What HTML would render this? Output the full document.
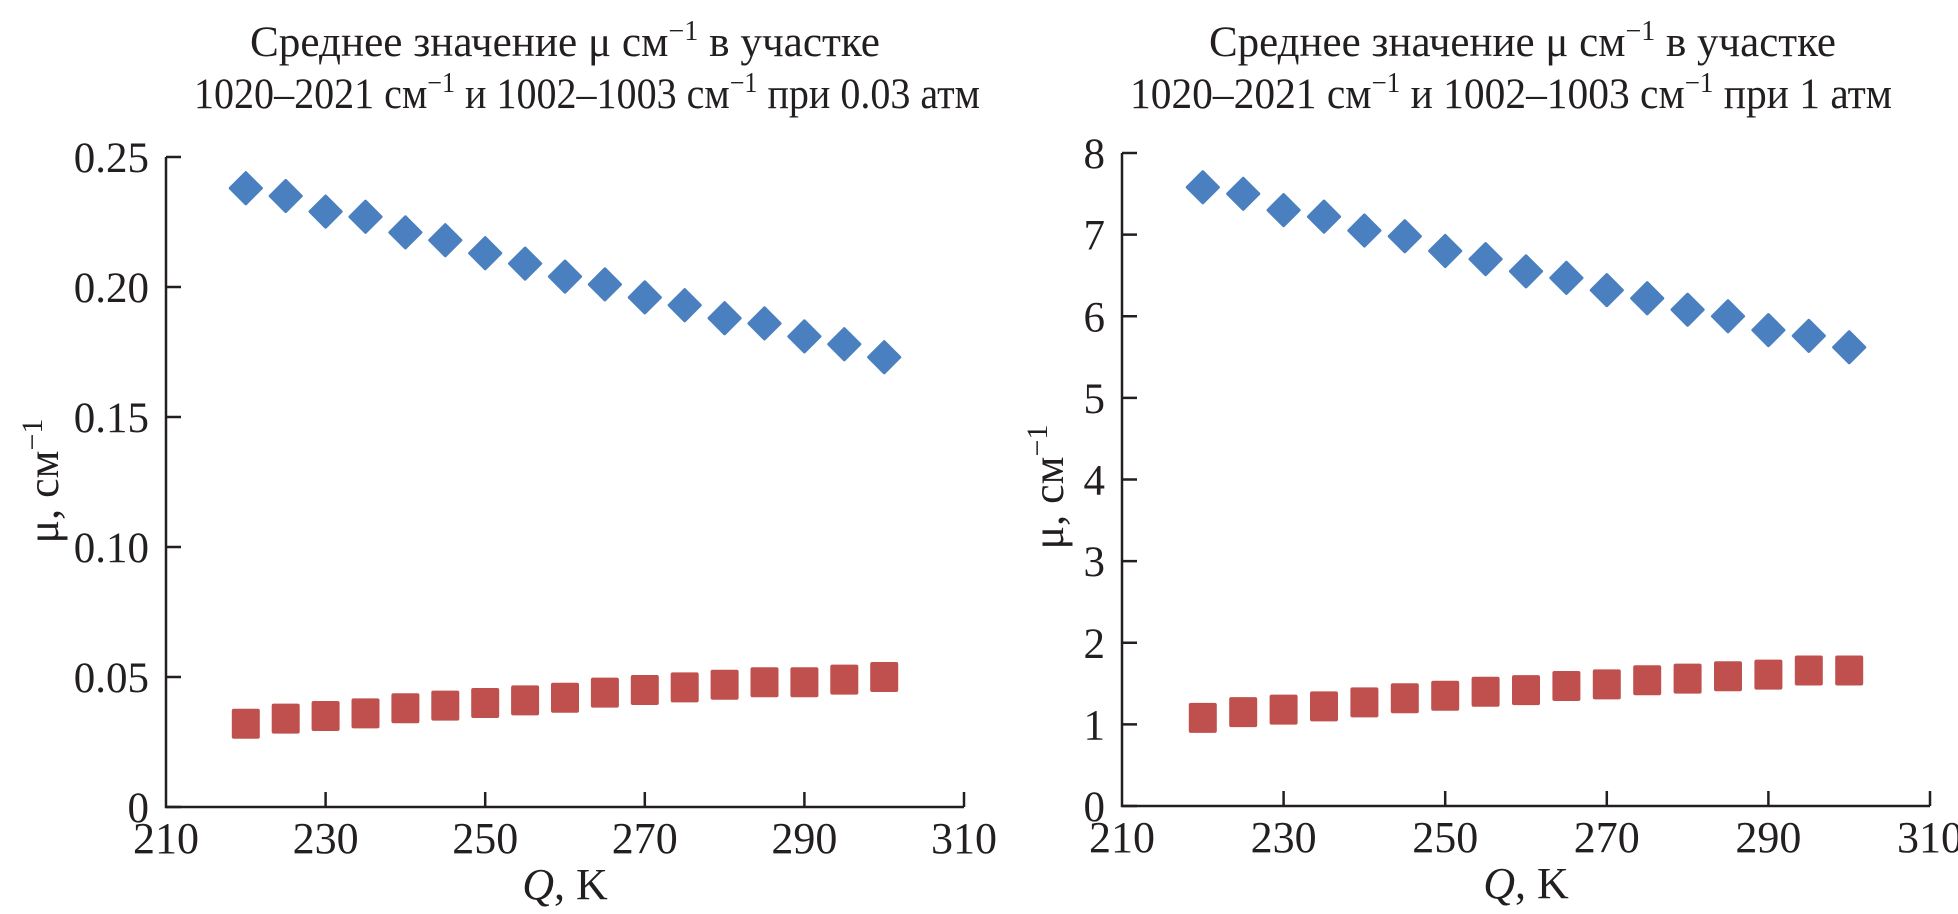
<!DOCTYPE html>
<html><head><meta charset="utf-8"><style>
html,body{margin:0;padding:0;background:#fff;}
svg{display:block;font-family:"Liberation Serif","DejaVu Serif",serif;}
</style></head><body>
<svg id="fig" width="1958" height="914" viewBox="0 0 1958 914" xmlns="http://www.w3.org/2000/svg"></svg>
<script>
const temps = [220,225,230,235,240,245,250,255,260,265,270,275,280,285,290,295,300];
const leftBlue = [0.238,0.235,0.229,0.227,0.221,0.218,0.213,0.209,0.204,0.201,0.196,0.193,0.188,0.186,0.181,0.178,0.173];
const leftRed = [0.032,0.034,0.035,0.036,0.038,0.039,0.040,0.041,0.042,0.044,0.045,0.046,0.047,0.048,0.048,0.049,0.050];
const rightBlue = [7.58,7.50,7.30,7.22,7.05,6.98,6.80,6.70,6.55,6.47,6.32,6.22,6.08,6.00,5.83,5.76,5.62];
const rightRed = [1.08,1.15,1.18,1.22,1.27,1.32,1.35,1.40,1.42,1.47,1.49,1.54,1.56,1.59,1.61,1.66,1.66];
const xTicks = [210,230,250,270,290,310];
const leftYTicks = [0,0.05,0.10,0.15,0.20,0.25];
const leftYLabels = ["0","0.05","0.10","0.15","0.20","0.25"];
const rightYTicks = [0,1,2,3,4,5,6,7,8];
const rightYLabels = ["0","1","2","3","4","5","6","7","8"];

const NS = "http://www.w3.org/2000/svg";
const svg = document.getElementById('fig');
function mk(tag, attrs, parent){
  const e = document.createElementNS(NS, tag);
  for (const k in attrs) e.setAttribute(k, attrs[k]);
  (parent||svg).appendChild(e);
  return e;
}

function panel(cfg){
  const g = mk('g', {});
  
  
  const xs = v => cfg.x0 + (v - 210) / 100 * (cfg.x1 - cfg.x0);
  const ys = v => cfg.y0 - (v - cfg.ymin) / (cfg.ymax - cfg.ymin) * (cfg.y0 - cfg.y1);
  const t = mk('text', {x: cfg.t1x, y: 56, 'font-size':43, fill:'#231f20', textLength: cfg.t1w, lengthAdjust:'spacingAndGlyphs'}, g);
  
  
  t.innerHTML = 'Среднее значение μ см<tspan dy="-16" font-size="28">−1</tspan><tspan dy="16"> в участке</tspan>';
  const t2 = mk('text', {x: cfg.t2x, y: 108, 'font-size':43, fill:'#231f20', textLength: cfg.t2w, lengthAdjust:'spacingAndGlyphs'}, g);
  
  
  t2.innerHTML = '1020–2021 см<tspan dy="-16" font-size="28">−1</tspan><tspan dy="16"> и 1002–1003 см</tspan><tspan dy="-16" font-size="28">−1</tspan><tspan dy="16"> при ' + cfg.p + '</tspan>';
  const ax = mk('path', {d:`M${cfg.x0},${ys(cfg.ymax)} L${cfg.x0},${cfg.y0} L${xs(310)},${cfg.y0}`, stroke:'#231f20', 'stroke-width':2.5, fill:'none'}, g);
  
  
  cfg.yt.forEach((v,i) => {
    const y = ys(v);
    const tk = mk('line', {x1:cfg.x0, x2:cfg.x0+15, y1:y, y2:y, stroke:'#231f20', 'stroke-width':2.5}, g);
    
    
    const lb = mk('text', {x:cfg.x0-17, y:y+15, 'text-anchor':'end', 'font-size':43, fill:'#231f20'}, g);
    
    
    lb.textContent = cfg.yl[i];
  });
  xTicks.forEach(v => {
    const x = xs(v);
    if (v !== 210) {
      const tk = mk('line', {x1:x, x2:x, y1:cfg.y0, y2:cfg.y0-15, stroke:'#231f20', 'stroke-width':2.5}, g);
      
      
    }
    const lb = mk('text', {x:x, y:cfg.y0+46, 'text-anchor':'middle', 'font-size':44, fill:'#231f20'}, g);
    
    
    lb.textContent = v;
  });
  const xl = mk('text', {x:(cfg.x0+xs(310))/2, y:cfg.y0+92, 'text-anchor':'middle', 'font-size':44, fill:'#231f20'}, g);
  
  
  xl.innerHTML = '<tspan font-style="italic">Q</tspan>, K';
  const yl = mk('text', {x:0, y:0, 'text-anchor':'middle', 'font-size':44, fill:'#231f20', transform:`translate(${cfg.ylx},${cfg.yly}) rotate(-90)`}, g);
  
  
  yl.innerHTML = 'μ, см<tspan dy="-16" font-size="30">−1</tspan>';
  temps.forEach((tv,i) => {
    const x = xs(tv), yb = ys(cfg.blue[i]), yr = ys(cfg.red[i]);
    const d = mk('rect', {x:x-12.5, y:yb-12.5, width:25, height:25, rx:1.5, fill:'#4a80c0', transform:`rotate(45 ${x} ${yb})`}, g);
    
    
    const s = mk('rect', {x:x-14, y:yr-15, width:28, height:30, rx:2, fill:'#c0504d'}, g);
    
    
  });
}

panel({name:'left-chart', x0:166, x1:964, y0:807, y1:157, ymin:0, ymax:0.25, yt:leftYTicks, yl:leftYLabels, blue:leftBlue, red:leftRed, t1x:250, t1w:630, t2x:194, t2w:786, p:'0.03 атм', ylx:58, yly:481});
panel({name:'right-chart', x0:1122, x1:1930, y0:806, y1:153, ymin:0, ymax:8, yt:rightYTicks, yl:rightYLabels, blue:rightBlue, red:rightRed, t1x:1209, t1w:627, t2x:1130, t2w:762, p:'1 атм', ylx:1063, yly:487});
</script>
</body></html>
